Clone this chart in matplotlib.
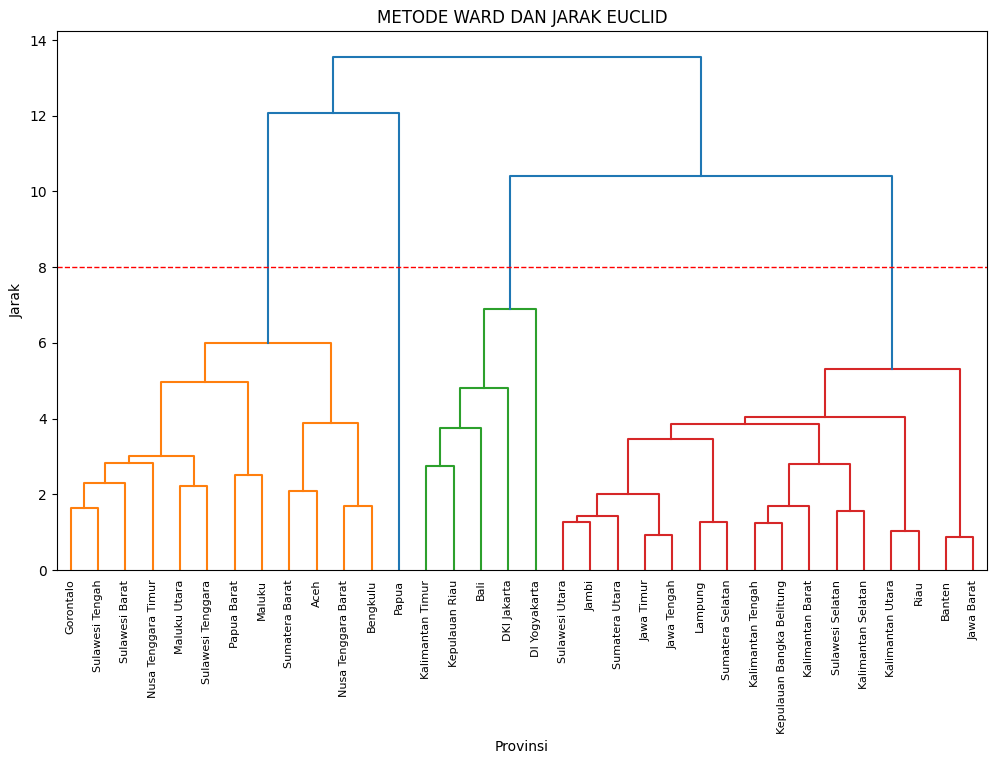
import matplotlib
matplotlib.use("Agg")
import matplotlib.pyplot as plt

# nama provinsi sesuai urutan daun
provinsi = ["Gorontalo", "Sulawesi Tengah", "Sulawesi Barat", "Nusa Tenggara Timur",
            "Maluku Utara", "Sulawesi Tenggara", "Papua Barat", "Maluku",
            "Sumatera Barat", "Aceh", "Nusa Tenggara Barat", "Bengkulu", "Papua",
            "Kalimantan Timur", "Kepulauan Riau", "Bali", "DKI Jakarta", "DI Yogyakarta",
            "Sulawesi Utara", "Jambi", "Sumatera Utara", "Jawa Timur", "Jawa Tengah",
            "Lampung", "Sumatera Selatan", "Kalimantan Tengah", "Kepulauan Bangka Belitung",
            "Kalimantan Barat", "Sulawesi Selatan", "Kalimantan Selatan", "Kalimantan Utara",
            "Riau", "Banten", "Jawa Barat"]

# linkage: indeks < 34 = daun, >= 34 = gabungan sebelumnya
gabung_a = [0, 34, 35, 4, 36, 6, 38, 8, 10, 41, 40, 44,
            13, 46, 47, 48,
            18, 50, 21, 51, 23, 53, 25, 56, 28, 57, 55, 30, 60, 32, 62,
            49, 45]
gabung_b = [1, 2, 3, 5, 37, 7, 39, 9, 11, 42, 43, 12,
            14, 15, 16, 17,
            19, 20, 22, 52, 24, 54, 26, 27, 29, 58, 59, 31, 61, 33, 63,
            64, 65]
jarak = [1.65, 2.30, 2.83, 2.22, 3.02, 2.52, 4.97, 2.10, 1.70, 3.88, 6.00, 12.08,
         2.75, 3.75, 4.82, 6.90,
         1.28, 1.42, 0.93, 2.02, 1.28, 3.45, 1.25, 1.70, 1.55, 2.80, 3.87, 1.02, 4.03, 0.88, 5.30,
         10.42, 13.56]

n = len(provinsi)
batas_warna = 0.7 * max(jarak)
garis_potong = 8

# posisi tiap node
pos_x = {i: 5 + 10 * i for i in range(n)}
tinggi = {i: 0.0 for i in range(n)}
anak = {}
for k in range(len(jarak)):
    idx = n + k
    a, b = gabung_a[k], gabung_b[k]
    anak[idx] = (a, b)
    pos_x[idx] = (pos_x[a] + pos_x[b]) / 2
    tinggi[idx] = jarak[k]

# warna cluster di bawah batas
warna = {}
palet = ["C1", "C2", "C3", "C4", "C5"]
akar = n + len(jarak) - 1

def beri_warna(node, c):
    warna[node] = c
    if node in anak:
        for ch in anak[node]:
            beri_warna(ch, c)

urutan = [akar]
cnt = 0
stack = [akar]
while stack:
    node = stack.pop(0)
    if node in anak and tinggi[node] >= batas_warna:
        warna[node] = "C0"
        for ch in anak[node]:
            if ch in anak and tinggi[ch] < batas_warna:
                pass
        stack = list(anak[node]) + stack
    elif node in anak:
        beri_warna(node, palet[cnt])
        cnt += 1
    else:
        warna[node] = "C0"

fig = plt.figure(figsize=(9.96, 7.64), dpi=100)
ax = fig.add_axes([0.0572, 0.2539, 0.9338, 0.7055])

for idx, (a, b) in anak.items():
    h = tinggi[idx]
    ax.plot([pos_x[a], pos_x[a], pos_x[b], pos_x[b]],
            [tinggi[a], h, h, tinggi[b]], color=warna[idx], linewidth=1.5)

ax.axhline(y=garis_potong, color="r", linestyle="--", linewidth=1)

ax.set_xlim(0, 10 * n)
ax.set_ylim(0, max(jarak) * 1.05)
ax.set_xticks([pos_x[i] for i in range(n)])
ax.set_xticklabels(provinsi, rotation=90, fontsize=8)
ax.tick_params(axis="x", which="both", bottom=False, top=False)
ax.set_title("METODE WARD DAN JARAK EUCLID")
ax.set_xlabel("Provinsi")
ax.set_ylabel("Jarak")

fig.savefig("out.png", dpi=100)
